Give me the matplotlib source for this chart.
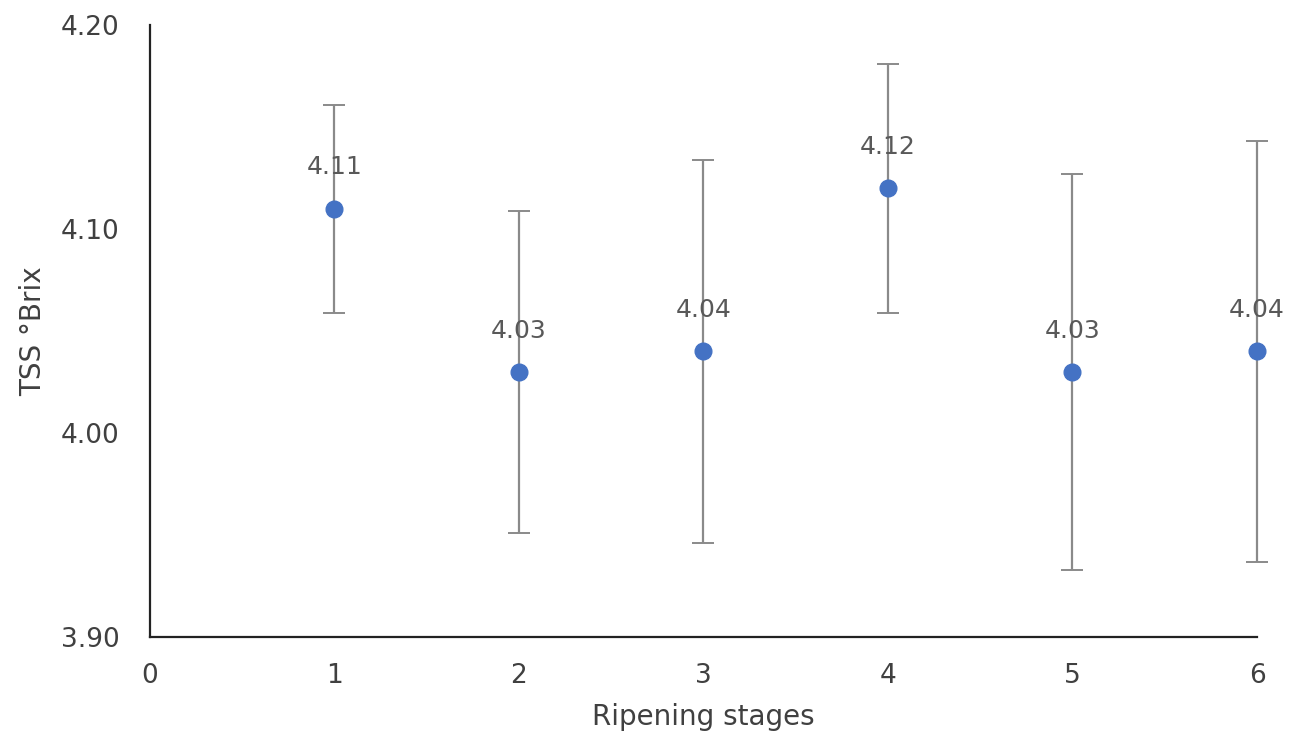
import matplotlib.pyplot as plt

stages = [1, 2, 3, 4, 5, 6]
tss = [4.11, 4.03, 4.04, 4.12, 4.03, 4.04]
err = [0.051, 0.079, 0.094, 0.061, 0.097, 0.103]
labels = ["4.11", "4.03", "4.04", "4.12", "4.03", "4.04"]

plt.rcParams['font.family'] = ['DejaVu Sans']

fig = plt.figure(figsize=(13.03, 7.51), dpi=100)
ax = fig.add_axes([0.1151, 0.1518, 0.8496, 0.8149])

ax.errorbar(stages, tss, yerr=err, fmt='none', ecolor='#8a8a8a', elinewidth=1.6,
            capsize=8, capthick=1.4, zorder=2, clip_on=False)
ax.plot(stages, tss, 'o', color='#4472C4', markersize=12, zorder=3, clip_on=False)

for x, y, t in zip(stages, tss, labels):
    ax.annotate(t, (x, y), xytext=(0, 21), textcoords='offset points',
                ha='center', va='bottom', fontsize=18, color='#595959')

ax.set_xlim(0, 6)
ax.set_ylim(3.90, 4.20)
ax.set_xticks(range(0, 7))
ax.set_yticks([3.90, 4.00, 4.10, 4.20])
ax.set_yticklabels(["3.90", "4.00", "4.10", "4.20"])
ax.tick_params(length=0, labelsize=19, labelcolor='#404040')
ax.tick_params(axis='y', pad=22)
ax.tick_params(axis='x', pad=19)

for s in ['top', 'right']:
    ax.spines[s].set_visible(False)
for s in ['left', 'bottom']:
    ax.spines[s].set_color('#222222')
    ax.spines[s].set_linewidth(1.6)

ax.set_xlabel("Ripening stages", fontsize=20, color='#404040', labelpad=10)
ax.set_ylabel("TSS °Brix", fontsize=20, color='#404040', labelpad=10)

fig.savefig("out.png", dpi=100)
